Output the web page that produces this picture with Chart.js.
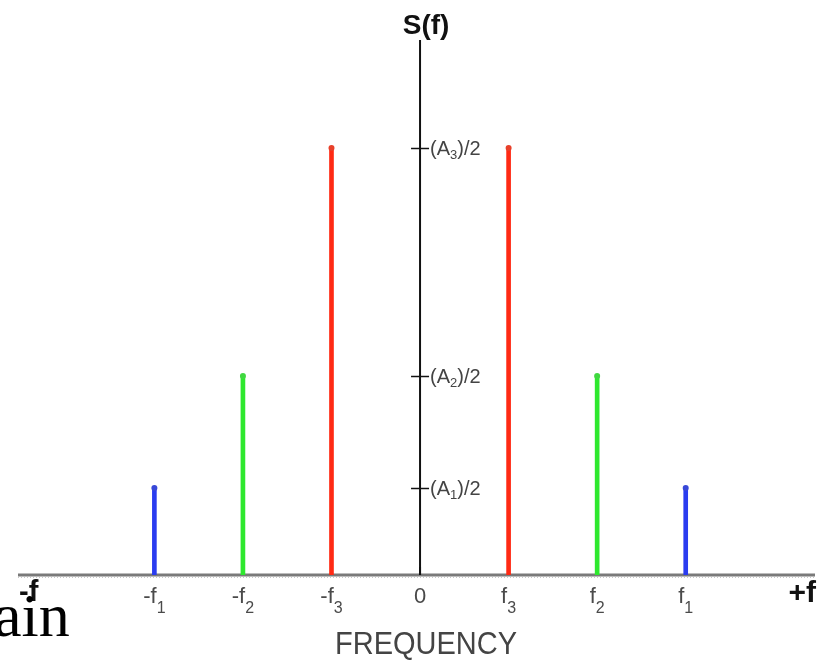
<!DOCTYPE html>
<html>
<head>
<meta charset="utf-8">
<script src="https://cdn.jsdelivr.net/npm/chart.js@4/dist/chart.umd.min.js"></script>
<style>
  html, body { margin: 0; padding: 0; background: #fff; }
  #wrap { width: 827px; height: 662px; position: relative; }
</style>
</head>
<body>
<div id="wrap"><canvas id="c" width="827" height="662"></canvas></div>
<script>
// ---- data ----
const stemPositions = [-3, -2, -1, 1, 2, 3];
const stemHeights   = [0.87, 1.99, 4.27, 4.27, 1.99, 0.87];
const stemSeries    = ['f1', 'f2', 'f3', 'f3', 'f2', 'f1'];

const xTickValues = [-3, -2, -1, 0, 1, 2, 3];
const xTickBase   = ['-f', '-f', '-f', '0', 'f', 'f', 'f'];
const xTickSub    = ['1', '2', '3', '', '3', '2', '1'];

const yTickValues = [0.87, 1.99, 4.27];
const yTickBase   = ['(A', '(A', '(A'];
const yTickSub    = ['1', '2', '3'];
const yTickTail   = [')/2', ')/2', ')/2'];

const axisTitleY = 'S(f)';
const axisTitleX = 'FREQUENCY';
const axisEndLeft = '-f';
const axisEndRight = '+f';
const strayText = 'ain';

// ---- styles ----
const seriesColor = { f1: '#2a3cf0', f2: '#2ee82e', f3: '#ff2a14' };
const dotColor    = { f1: '#3848d8', f2: '#40d840', f3: '#e8402a' };
const SANS = '"Liberation Sans", Arial, sans-serif';

const stemData = stemPositions.map((x, i) => ({ x: x, y: stemHeights[i] }));

const axesPlugin = {
  id: 'axesPlugin',
  beforeDatasetsDraw(chart) {
    const { ctx, chartArea, scales } = chart;
    const xs = scales.x, ys = scales.y;
    const x0 = xs.getPixelForValue(0);
    const y0 = ys.getPixelForValue(0);
    ctx.save();
    ctx.strokeStyle = '#c8c8c8';
    ctx.lineWidth = 1;
    ctx.setLineDash([1, 2]);
    ctx.beginPath();
    ctx.moveTo(chartArea.left, y0 + 2.5);
    ctx.lineTo(chartArea.right, y0 + 2.5);
    ctx.stroke();
    ctx.setLineDash([]);
    ctx.strokeStyle = '#7a7a7a';
    ctx.lineWidth = 3;
    ctx.beginPath();
    ctx.moveTo(chartArea.left, y0);
    ctx.lineTo(chartArea.right, y0);
    ctx.stroke();
    ctx.strokeStyle = '#111';
    ctx.lineWidth = 2;
    ctx.beginPath();
    ctx.moveTo(x0, chartArea.top);
    ctx.lineTo(x0, y0);
    ctx.stroke();
    ctx.lineWidth = 1.5;
    yTickValues.forEach(v => {
      const py = Math.round(ys.getPixelForValue(v)) + 0.5;
      ctx.beginPath();
      ctx.moveTo(x0 - 9, py);
      ctx.lineTo(x0 + 9, py);
      ctx.stroke();
    });
    ctx.lineWidth = 2;
    ctx.beginPath();
    ctx.moveTo(x0, y0 - 8);
    ctx.lineTo(x0, y0);
    ctx.stroke();
    ctx.restore();
  },
  afterDatasetsDraw(chart) {
    const { ctx, chartArea, scales } = chart;
    const xs = scales.x, ys = scales.y;
    const x0 = xs.getPixelForValue(0);
    const y0 = ys.getPixelForValue(0);
    ctx.save();
    ctx.textBaseline = 'alphabetic';
    // x tick labels with subscripts
    const mainFont = '22px ' + SANS;
    const subFont = '16px ' + SANS;
    ctx.fillStyle = '#4a4a4a';
    xTickValues.forEach((v, i) => {
      const px = xs.getPixelForValue(v);
      ctx.font = mainFont;
      const wb = ctx.measureText(xTickBase[i]).width;
      ctx.font = subFont;
      const ws = xTickSub[i] ? ctx.measureText(xTickSub[i]).width : 0;
      const sx = px - (wb + ws) / 2;
      ctx.textAlign = 'left';
      ctx.font = mainFont;
      ctx.fillText(xTickBase[i], sx, y0 + 28);
      if (xTickSub[i]) {
        ctx.font = subFont;
        ctx.fillText(xTickSub[i], sx + wb, y0 + 38);
      }
    });
    // y tick labels
    const yMain = '20px ' + SANS;
    const ySub = '13px ' + SANS;
    ctx.fillStyle = '#444';
    yTickValues.forEach((v, i) => {
      const py = ys.getPixelForValue(v);
      let sx = x0 + 10;
      ctx.textAlign = 'left';
      ctx.font = yMain;
      ctx.fillText(yTickBase[i], sx, py + 7);
      sx += ctx.measureText(yTickBase[i]).width;
      ctx.font = ySub;
      ctx.fillText(yTickSub[i], sx, py + 11);
      sx += ctx.measureText(yTickSub[i]).width;
      ctx.font = yMain;
      ctx.fillText(yTickTail[i], sx, py + 7);
    });
    // axis titles
    ctx.fillStyle = '#111';
    ctx.font = 'bold 28px ' + SANS;
    ctx.textAlign = 'center';
    ctx.fillText(axisTitleY, x0 + 6, 34);
    ctx.font = 'bold 29px ' + SANS;
    ctx.textAlign = 'left';
    ctx.fillText(axisEndLeft, chartArea.left + 1, y0 + 26);
    ctx.textAlign = 'right';
    ctx.font = 'bold 30px ' + SANS;
    ctx.fillText(axisEndRight, chartArea.right + 1, y0 + 27);
    ctx.fillStyle = '#444';
    ctx.textAlign = 'center';
    ctx.font = '29px ' + SANS;
    ctx.save();
    ctx.translate(x0 + 6, y0 + 79);
    ctx.scale(1, 1.05);
    ctx.fillText(axisTitleX, 0, 0);
    ctx.restore();
    // stray serif text
    ctx.fillStyle = '#000';
    ctx.textAlign = 'left';
    ctx.font = '62px "Liberation Serif", "Times New Roman", serif';
    ctx.fillText(strayText, -6, y0 + 61);
    ctx.restore();
  }
};

new Chart(document.getElementById('c'), {
  type: 'bar',
  data: {
    datasets: [
      {
        type: 'bar',
        data: stemData,
        backgroundColor: stemSeries.map(s => seriesColor[s]),
        borderWidth: 0,
        barThickness: 4,
        order: 2
      },
      {
        type: 'scatter',
        data: stemData,
        pointRadius: 3,
        pointBackgroundColor: stemSeries.map(s => dotColor[s]),
        pointBorderWidth: 0,
        order: 1
      }
    ]
  },
  options: {
    responsive: false,
    animation: false,
    layout: { padding: { left: 18, right: 12, top: 40, bottom: 87 } },
    plugins: { legend: { display: false }, tooltip: { enabled: false } },
    scales: {
      x: { type: 'linear', min: -4.54, max: 4.46, offset: false, display: false },
      y: { type: 'linear', min: 0, max: 5.35, display: false }
    }
  },
  plugins: [axesPlugin]
});
</script>
</body>
</html>
